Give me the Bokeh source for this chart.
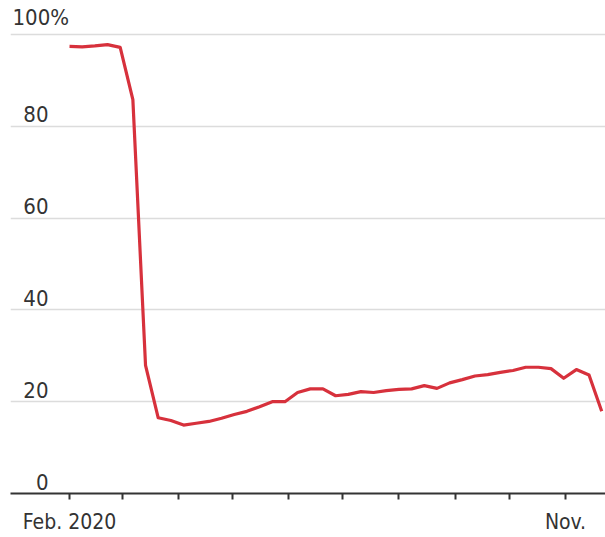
from datetime import datetime, timedelta
from bokeh.plotting import figure
from bokeh.models import Range1d, FixedTicker, ColumnDataSource
from bokeh.core.properties import value
from bokeh.embed import file_html
from bokeh.resources import INLINE

# ---- data ----
start_week = datetime(2020, 2, 1)
share = [97.4, 97.3, 97.5, 97.8, 97.2, 85.8, 27.9, 16.5, 15.9, 14.9,
         15.3, 15.7, 16.4, 17.2, 17.9, 18.9, 20.0, 20.0, 22.0, 22.8,
         22.8, 21.3, 21.6, 22.2, 22.0, 22.4, 22.7, 22.8, 23.5, 22.9,
         24.1, 24.8, 25.6, 25.9, 26.4, 26.8, 27.5, 27.5, 27.2, 25.1,
         27.0, 25.8, 17.9]
dates = [start_week + timedelta(weeks=i) for i in range(len(share))]

month_ticks = [datetime(2020, m, 1) for m in range(2, 12)]
month_labels = ["Feb. 2020", "", "", "", "", "", "", "", "", "Nov."]

y_ticks = [20, 40, 60, 80, 100]
y_labels = ["0", "20", "40", "60", "80"]
y_label_vals = [0, 20, 40, 60, 80]
top_label = "100%"
top_val = 100

FONT = "'DejaVu Sans Condensed', 'Liberation Sans Narrow', Roboto, sans-serif"
TXT = "#333333"

x0 = datetime(2020, 2, 1) - timedelta(days=32.6)
x1 = datetime(2020, 11, 1) + timedelta(days=22.1)

p = figure(width=605, height=537, output_backend="svg", toolbar_location=None,
           x_axis_type="datetime",
           x_range=Range1d(x0, x1), y_range=Range1d(0, 107.4),
           min_border_left=10, min_border_right=0, min_border_top=0,
           min_border_bottom=44)
p.outline_line_color = None
p.background_fill_color = "white"
p.border_fill_color = "white"

# axes
p.yaxis.visible = False
p.ygrid.ticker = FixedTicker(ticks=y_ticks)
p.ygrid.grid_line_color = "#dcdcdc"
p.ygrid.grid_line_width = 1.5
p.xgrid.visible = False

tick_ms = [d.timestamp() * 1000 for d in month_ticks]
xa = p.xaxis[0]
xa.ticker = FixedTicker(ticks=tick_ms)
xa.major_label_overrides = {t: l for t, l in zip(tick_ms, month_labels)}
xa.axis_line_color = TXT
xa.axis_line_width = 2
xa.major_tick_line_color = TXT
xa.major_tick_line_width = 2
xa.major_tick_out = 6
xa.major_tick_in = 0
xa.minor_tick_out = 0
xa.minor_tick_in = 0
xa.major_label_standoff = 10
xa.major_label_text_font = FONT
xa.major_label_text_font_size = "21px"
xa.major_label_text_color = TXT

# line
src = ColumnDataSource(dict(date=dates, share=share))
p.line("date", "share", source=src, line_color="#d7313c", line_width=3.2,
       line_join="round")

# y labels
lab = ColumnDataSource(dict(x=[x0] * len(y_labels), y=y_label_vals, t=y_labels))
p.text("x", "y", text="t", source=lab, x_offset=38, y_offset=-4,
       text_align="right", text_baseline="bottom",
       text_font=value(FONT), text_font_size="22px", text_color=TXT)
top = ColumnDataSource(dict(x=[x0], y=[top_val], t=[top_label]))
p.text("x", "y", text="t", source=top, x_offset=2, y_offset=-4,
       text_align="left", text_baseline="bottom",
       text_font=value(FONT), text_font_size="22px", text_color=TXT)

open("out.html", "w").write(file_html(p, INLINE))
